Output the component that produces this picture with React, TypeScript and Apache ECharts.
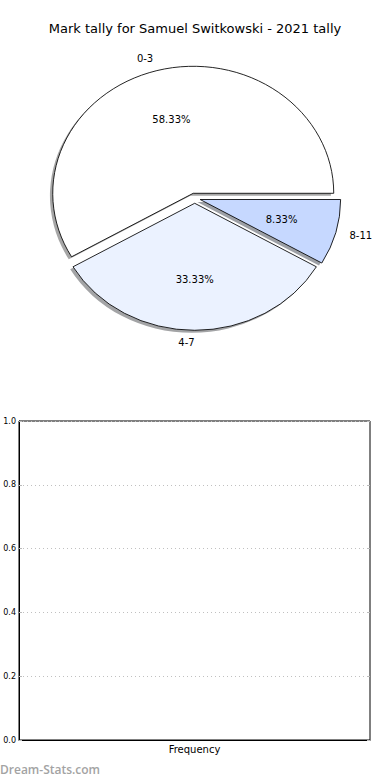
import React, { useEffect, useRef } from "react";
import * as echarts from "echarts";

// ---- data ----
const chartTitle = "Mark tally for Samuel Switkowski - 2021 tally";
const categories = ["0-3", "4-7", "8-11"];
const counts = [7, 4, 1];
const sliceColors = ["#ffffff", "#ebf2ff", "#c6d8ff"];
const yTicks = [0, 0.2, 0.4, 0.6, 0.8, 1.0];
const barCategories: string[] = [];
const barValues: number[] = [];
const xAxisName = "Frequency";
const watermark = "Dream-Stats.com";

// ---- layout ----
const FONT = "DejaVu Sans";
const CX = 194.7;
const CY = 198.2;
const RX = 140.5;
const RY = 127;
const EXPLODE = 0.04;
const LABEL_DIST = 1.1;
const PCT_DIST = 0.6;

function shadowOf(hex: string): string {
  const n = parseInt(hex.slice(1), 16);
  const r = Math.round(((n >> 16) & 255) * 0.3);
  const g = Math.round(((n >> 8) & 255) * 0.3);
  const b = Math.round((n & 255) * 0.3);
  return `rgb(${r},${g},${b})`;
}

export default function App() {
  const ref = useRef<HTMLDivElement>(null);

  useEffect(() => {
    document.body.style.margin = "0";
    if (!ref.current) return;
    const chart = echarts.init(ref.current, undefined, { renderer: "svg" });
    const total = counts.reduce((a, b) => a + b, 0);

    const option: any = {
      animation: false,
      backgroundColor: "#ffffff",
      title: {
        text: chartTitle,
        left: "center",
        top: 22,
        padding: 0,
        textStyle: { fontFamily: FONT, fontSize: 13, fontWeight: "normal", color: "#000" },
      },
      grid: {
        left: 19,
        right: 20,
        top: 421,
        bottom: 40,
        show: true,
        borderColor: "#000",
        borderWidth: 1,
        backgroundColor: "transparent",
      },
      xAxis: {
        type: "category",
        data: barCategories,
        name: xAxisName,
        nameLocation: "middle",
        nameGap: 4,
        nameTextStyle: { fontFamily: FONT, fontSize: 10, color: "#000" },
        axisLine: { show: true, lineStyle: { color: "#000", width: 1 } },
        axisTick: { show: false },
        axisLabel: { show: false },
        splitLine: { show: false },
      },
      yAxis: [
        {
          type: "value",
          min: yTicks[0],
          max: yTicks[yTicks.length - 1],
          interval: yTicks[1] - yTicks[0],
          axisLine: { show: true, lineStyle: { color: "#000", width: 1 } },
          axisTick: { show: true, inside: true, length: 3, lineStyle: { color: "#bbbbbb" } },
          axisLabel: {
            fontFamily: FONT,
            fontSize: 8,
            color: "#000",
            margin: 3,
            formatter: (v: number) => v.toFixed(1),
          },
          splitLine: { show: true, lineStyle: { color: "#c0c0c0", type: [1, 3], width: 1 } },
        },
        {
          type: "value",
          position: "right",
          min: yTicks[0],
          max: yTicks[yTicks.length - 1],
          interval: yTicks[1] - yTicks[0],
          axisLine: { show: false },
          axisTick: { show: true, inside: true, length: 3, lineStyle: { color: "#bbbbbb" } },
          axisLabel: { show: false },
          splitLine: { show: false },
        },
      ],
      series: [
        {
          type: "bar",
          data: barValues,
          xAxisIndex: 0,
          yAxisIndex: 0,
        },
        {
          type: "custom",
          coordinateSystem: "none",
          data: counts.map((c, i) => [i, c]),
          renderItem: (params: any, api: any) => {
            const i = params.dataIndex;
            const v = api.value(1);
            let before = 0;
            for (let k = 0; k < i; k++) before += counts[k];
            const t1 = (before / total) * 2 * Math.PI;
            const t2 = ((before + v) / total) * 2 * Math.PI;
            const tm = (t1 + t2) / 2;
            const cos = Math.cos(tm);
            const sin = Math.sin(tm);
            const ox = CX + EXPLODE * RX * cos;
            const oy = CY - EXPLODE * RY * sin;
            const sy = RY / RX;
            const shape = { cx: 0, cy: 0, r0: 0, r: RX, startAngle: -t2, endAngle: -t1, clockwise: true };
            const color = sliceColors[i % sliceColors.length];
            const pct = ((v / total) * 100).toFixed(2) + "%";
            return {
              type: "group",
              children: [
                {
                  type: "sector",
                  x: ox - 0.02 * RX,
                  y: oy + 0.02 * RY,
                  scaleY: sy,
                  shape,
                  style: { fill: shadowOf(color), opacity: 0.5 },
                  z2: 0,
                },
                {
                  type: "sector",
                  x: ox,
                  y: oy,
                  scaleY: sy,
                  shape,
                  style: { fill: color, stroke: "#000", lineWidth: 0.9, strokeNoScale: true },
                  z2: 10,
                },
                {
                  type: "text",
                  x: ox + LABEL_DIST * RX * cos,
                  y: oy - LABEL_DIST * RY * sin,
                  style: {
                    text: categories[i],
                    fontFamily: FONT,
                    fontSize: 10,
                    fill: "#000",
                    align: cos > 0 ? "left" : "right",
                    verticalAlign: "middle",
                  },
                  z2: 20,
                },
                {
                  type: "text",
                  x: ox + PCT_DIST * RX * cos,
                  y: oy - PCT_DIST * RY * sin,
                  style: {
                    text: pct,
                    fontFamily: FONT,
                    fontSize: 10,
                    fill: "#000",
                    align: "center",
                    verticalAlign: "middle",
                  },
                  z2: 20,
                },
              ],
            };
          },
        },
      ],
      graphic: [
        {
          type: "text",
          left: 0,
          top: 763,
          style: {
            text: watermark,
            fontFamily: "Open Sans",
            fontSize: 12,
            fontWeight: 600,
            fill: "#a3a3a3",
          },
        },
      ],
    };

    chart.setOption(option);
    return () => chart.dispose();
  }, []);

  return (
    <div
      ref={ref}
      style={{ position: "absolute", left: 0, top: 0, width: 390, height: 780 }}
    />
  );
}
